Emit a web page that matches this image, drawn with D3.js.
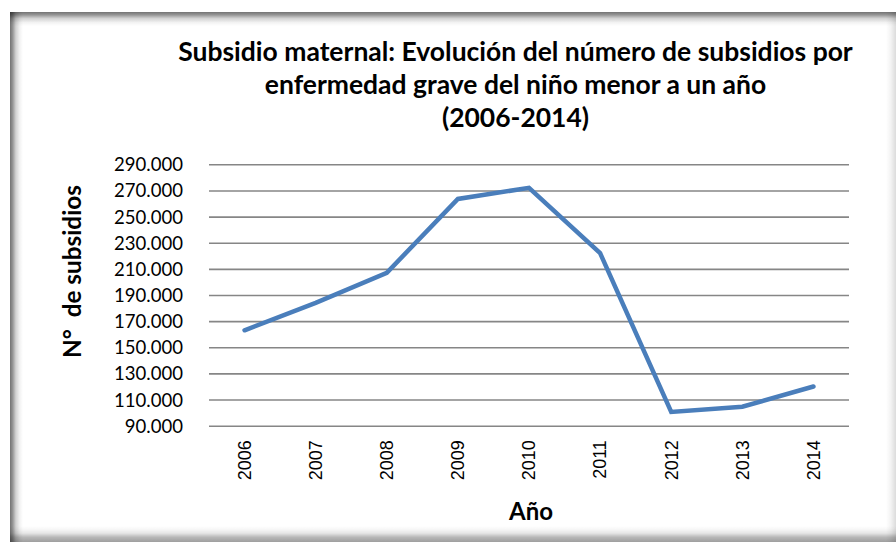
<!DOCTYPE html>
<html>
<head>
<meta charset="utf-8">
<script src="https://cdn.jsdelivr.net/npm/d3@7"></script>
<style>
  html, body { margin: 0; padding: 0; background: #fff; }
  svg { display: block; }
</style>
</head>
<body>
<svg id="chart" width="896" height="542"></svg>
<script>
// Chart values
const years = ["2006", "2007", "2008", "2009", "2010", "2011", "2012", "2013", "2014"];
const subsidios = [163000, 184000, 207000, 263500, 272000, 222000, 100500, 104500, 120000];
const yTicks = [90000, 110000, 130000, 150000, 170000, 190000, 210000, 230000, 250000, 270000, 290000];
const titleLines = [
  "Subsidio maternal: Evolución del número de subsidios por",
  "enfermedad grave del niño menor a un año",
  "(2006-2014)"
];
const yTitle = "N°  de subsidios";
const xTitle = "Año";

const W = 896, H = 542;
const plot = { left: 209, right: 849, top: 164.3, bottom: 425.7 };
const svg = d3.select("#chart");
const defs = svg.append("defs");

// Frame with soft inner shading along its edges
function edgeGradient(id, x1, y1, x2, y2, stops) {
  const g = defs.append("linearGradient").attr("id", id)
    .attr("x1", x1).attr("y1", y1).attr("x2", x2).attr("y2", y2);
  stops.forEach(s => g.append("stop").attr("offset", s[0])
    .attr("stop-color", "#000").attr("stop-opacity", s[1]));
}
const darkStops = [[0, 0.55], [0.2, 0.42], [0.45, 0.18], [0.75, 0.05], [1, 0]];
edgeGradient("gTop", 0, 0, 0, 1, darkStops);
edgeGradient("gLeft", 0, 0, 1, 0, darkStops);
edgeGradient("gBottom", 0, 1, 0, 0, [[0, 0.38], [0.3, 0.28], [0.55, 0.1], [0.8, 0.03], [1, 0]]);
edgeGradient("gRight", 1, 0, 0, 0, [[0, 0.14], [0.5, 0.05], [1, 0]]);

const fx = 10, fy = 12;
svg.append("rect").attr("x", fx).attr("y", fy).attr("width", W - fx).attr("height", 14).attr("fill", "url(#gTop)");
svg.append("rect").attr("x", fx).attr("y", fy).attr("width", 13).attr("height", H - fy).attr("fill", "url(#gLeft)");
svg.append("rect").attr("x", fx).attr("y", H - 16).attr("width", W - fx).attr("height", 16).attr("fill", "url(#gBottom)");
svg.append("rect").attr("x", W - 10).attr("y", fy).attr("width", 10).attr("height", H - fy).attr("fill", "url(#gRight)");

// Scales
const x = d3.scaleBand().domain(years).range([plot.left, plot.right]);
const y = d3.scaleLinear().domain([90000, 290000]).range([plot.bottom, plot.top]);
const fmt = d3.formatLocale({ decimal: ",", thousands: ".", grouping: [3], currency: ["$", ""] }).format(",");

function fitWidth(sel, target) {
  const w = sel.node().getComputedTextLength();
  const fs = parseFloat(sel.attr("font-size"));
  sel.attr("font-size", fs * target / w);
  return fs * target / w;
}

// Horizontal gridlines
const grid = svg.append("g").attr("transform", `translate(${plot.left},0)`)
  .call(d3.axisLeft(y).tickValues(yTicks).tickSize(-(plot.right - plot.left)).tickFormat(""));
grid.select(".domain").remove();
grid.selectAll(".tick line").attr("stroke", "#868686").attr("stroke-width", 1.6);

// Y axis labels
const yAxis = svg.append("g").attr("transform", `translate(183,0)`)
  .call(d3.axisLeft(y).tickValues(yTicks).tickSize(0).tickPadding(0).tickFormat(fmt));
yAxis.select(".domain").remove();
yAxis.selectAll("text").attr("font-family", "Lato, 'Open Sans', sans-serif")
  .attr("font-size", 20).attr("fill", "#000").attr("dy", "0.35em");
const ySize = fitWidth(yAxis.select(".tick:last-of-type text"), 69);
yAxis.selectAll("text").attr("font-size", ySize);

// X axis labels (rotated)
const xAxis = svg.append("g").attr("transform", `translate(0,${plot.bottom})`)
  .call(d3.axisBottom(x).tickSize(0).tickPadding(0));
xAxis.select(".domain").remove();
xAxis.selectAll("text")
  .attr("font-family", "'Liberation Sans', Arial, sans-serif").attr("font-size", 18).attr("fill", "#000")
  .attr("text-anchor", "end").attr("transform", "rotate(-90)")
  .attr("x", -14.5).attr("y", 0).attr("dy", "0.35em");
const xSize = fitWidth(xAxis.select(".tick text"), 40);
xAxis.selectAll("text").attr("font-size", xSize);

// Data line
const line = d3.line().x((d, i) => x(years[i]) + x.bandwidth() / 2).y(d => y(d));
svg.append("path").datum(subsidios)
  .attr("d", line).attr("fill", "none")
  .attr("stroke", "#4a7ebb").attr("stroke-width", 4.5)
  .attr("stroke-linecap", "round");

// Title
const baselines = [61, 94, 127];
const titleG = svg.append("g").attr("font-family", "Lato, 'Open Sans', sans-serif")
  .attr("font-weight", "bold").attr("fill", "#000").attr("text-anchor", "middle");
const t0 = titleG.append("text").attr("x", 515.5).attr("y", baselines[0]).attr("font-size", 24).text(titleLines[0]);
const tSize = fitWidth(t0, 675);
titleLines.slice(1).forEach((s, i) => titleG.append("text")
  .attr("x", 515.5).attr("y", baselines[i + 1]).attr("font-size", tSize).text(s));

// Axis titles
const yt = svg.append("text").attr("transform", "translate(81,271.5) rotate(-90)")
  .attr("text-anchor", "middle").attr("font-family", "Lato, 'Open Sans', sans-serif")
  .attr("font-weight", "bold").attr("font-size", 20).style("white-space", "pre").text(yTitle);
fitWidth(yt, 173);
const xt = svg.append("text").attr("x", 531).attr("y", 520)
  .attr("text-anchor", "middle").attr("font-family", "Lato, 'Open Sans', sans-serif")
  .attr("font-weight", "bold").attr("font-size", 20).text(xTitle);
fitWidth(xt, 44);
</script>
</body>
</html>
